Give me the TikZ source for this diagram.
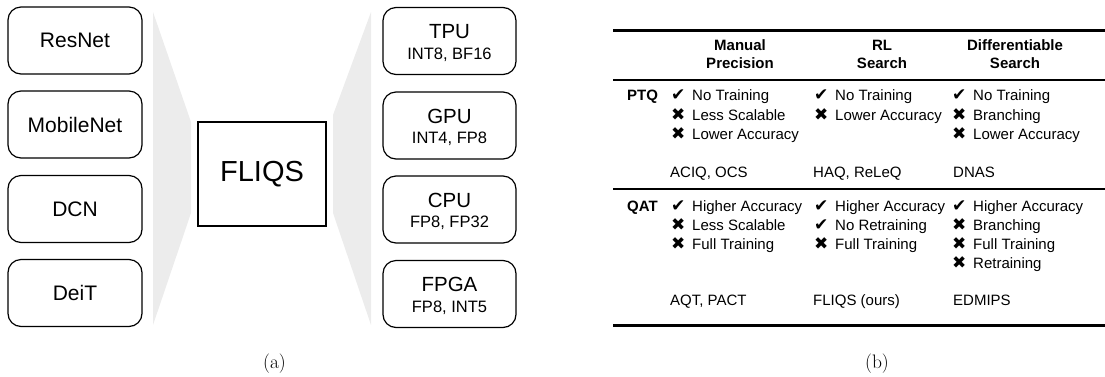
\documentclass[tikz,border=0pt]{standalone}
\usepackage{fontspec}
\newfontfamily\arial{Liberation Sans}
\newfontfamily\symfont{DejaVu Sans}
\definecolor{funnel}{RGB}{236,236,236}
\tikzset{
  netbox/.style={draw, rounded corners=13pt, line width=1.2pt, minimum width=134pt, minimum height=67pt, inner sep=0pt, font=\arial\fontsize{21}{25}\selectfont},
  hwbox/.style={draw, rounded corners=13pt, line width=1.2pt, minimum width=133pt, minimum height=67pt, inner sep=0pt},
  hwtitle/.style={anchor=base, inner sep=0pt, font=\arial\fontsize{20.5}{24}\selectfont},
  hwsub/.style={anchor=base, inner sep=0pt, font=\arial\fontsize{16.5}{20}\selectfont},
  coreBox/.style={draw, line width=1.2pt, minimum width=128pt, minimum height=104pt, inner sep=0pt, font=\arial\fontsize{29}{34}\selectfont},
  subcap/.style={inner sep=0pt, anchor=base, font=\rmfamily\fontsize{19.5}{23}\selectfont},
  hd/.style={anchor=base, inner sep=0pt, font=\arial\bfseries\fontsize{15}{18}\selectfont},
  rowlab/.style={anchor=base west, inner sep=0pt, font=\arial\bfseries\fontsize{15}{18}\selectfont},
  cell/.style={anchor=base west, inner sep=0pt, font=\arial\fontsize{15}{18}\selectfont},
  sym/.style={anchor=base west, inner sep=0pt, font=\symfont\fontsize{17}{20}\selectfont},
}
\begin{document}
\begin{tikzpicture}[x=1pt, y=-1pt]
\useasboundingbox (0,0) rectangle (1105,376);
% funnels
\fill[funnel] (153,12) -- (191,122) -- (191,213) -- (153,325) -- cycle;
\fill[funnel] (333,115) -- (371,12) -- (371,325) -- (333,213) -- cycle;
% left networks
\node[netbox] (resnet) at (75,40.5) {ResNet};
\node[netbox] (mobilenet) at (75,124.5) {MobileNet};
\node[netbox] (dcn) at (75,209) {DCN};
\node[netbox] (deit) at (75,293) {DeiT};
% core
\node[coreBox] (fliqs) at (262,174) {FLIQS};
% right hardware
\node[hwbox] (tpu) at (449.5,41) {};
\node[hwtitle] (tput) at (449.5,38.5) {TPU};
\node[hwsub] (tpus) at (449.5,59) {INT8, BF16};
\node[hwbox] (gpu) at (449.5,125.5) {};
\node[hwtitle] (gput) at (449.5,123) {GPU};
\node[hwsub] (gpus) at (449.5,143.5) {INT4, FP8};
\node[hwbox] (cpu) at (449.5,209.5) {};
\node[hwtitle] (cput) at (449.5,207) {CPU};
\node[hwsub] (cpus) at (449.5,227.5) {FP8, FP32};
\node[hwbox] (fpga) at (449.5,294) {};
\node[hwtitle] (fpgat) at (449.5,291.5) {FPGA};
\node[hwsub] (fpgas) at (449.5,312) {FP8, INT5};
\node[subcap] (capa) at (274.5,368) {\fontsize{19.5}{23}\selectfont (a)};
% table
\draw[line width=3pt] (613,30) -- (1105,30);
\draw[line width=2pt] (613,80) -- (1105,80);
\draw[line width=1.6pt] (613,189) -- (1105,189);
\draw[line width=3pt] (613,325) -- (1105,325);
\node[hd] (h1a) at (740,50) {Manual};
\node[hd] (h1b) at (740,68) {Precision};
\node[hd] (h2a) at (882,50) {RL};
\node[hd] (h2b) at (882,68) {Search};
\node[hd] (h3a) at (1015,50) {Differentiable};
\node[hd] (h3b) at (1015,68) {Search};
% PTQ
\node[rowlab] (ptq) at (627,100) {PTQ};
\node[sym] (s11a) at (671,100) {✔}; \node[cell] (t11a) at (692,100) {No Training};
\node[sym] (s11b) at (671,120) {✖}; \node[cell] (t11b) at (692,120) {Less Scalable};
\node[sym] (s11c) at (671,139) {✖}; \node[cell] (t11c) at (692,139) {Lower Accuracy};
\node[cell] (r11) at (670,177) {ACIQ, OCS};
\node[sym] (s12a) at (814,100) {✔}; \node[cell] (t12a) at (835,100) {No Training};
\node[sym] (s12b) at (814,120) {✖}; \node[cell] (t12b) at (835,120) {Lower Accuracy};
\node[cell] (r12) at (813,177) {HAQ, ReLeQ};
\node[sym] (s13a) at (952,100) {✔}; \node[cell] (t13a) at (973,100) {No Training};
\node[sym] (s13b) at (952,120) {✖}; \node[cell] (t13b) at (973,120) {Branching};
\node[sym] (s13c) at (952,139) {✖}; \node[cell] (t13c) at (973,139) {Lower Accuracy};
\node[cell] (r13) at (953,177) {DNAS};
% QAT
\node[rowlab] (qat) at (627,211) {QAT};
\node[sym] (s21a) at (671,211) {✔}; \node[cell] (t21a) at (692,211) {Higher Accuracy};
\node[sym] (s21b) at (671,230) {✖}; \node[cell] (t21b) at (692,230) {Less Scalable};
\node[sym] (s21c) at (671,249) {✖}; \node[cell] (t21c) at (692,249) {Full Training};
\node[cell] (r21) at (670,305) {AQT, PACT};
\node[sym] (s22a) at (814,211) {✔}; \node[cell] (t22a) at (835,211) {Higher Accuracy};
\node[sym] (s22b) at (814,230) {✔}; \node[cell] (t22b) at (835,230) {No Retraining};
\node[sym] (s22c) at (814,249) {✖}; \node[cell] (t22c) at (835,249) {Full Training};
\node[cell] (r22) at (813,305) {FLIQS (ours)};
\node[sym] (s23a) at (952,211) {✔}; \node[cell] (t23a) at (973,211) {Higher Accuracy};
\node[sym] (s23b) at (952,230) {✖}; \node[cell] (t23b) at (973,230) {Branching};
\node[sym] (s23c) at (952,249) {✖}; \node[cell] (t23c) at (973,249) {Full Training};
\node[sym] (s23d) at (952,268) {✖}; \node[cell] (t23d) at (973,268) {Retraining};
\node[cell] (r23) at (953,305) {EDMIPS};
\node[subcap] (capb) at (877,368) {\fontsize{19.5}{23}\selectfont (b)};
\end{tikzpicture}
\end{document}
